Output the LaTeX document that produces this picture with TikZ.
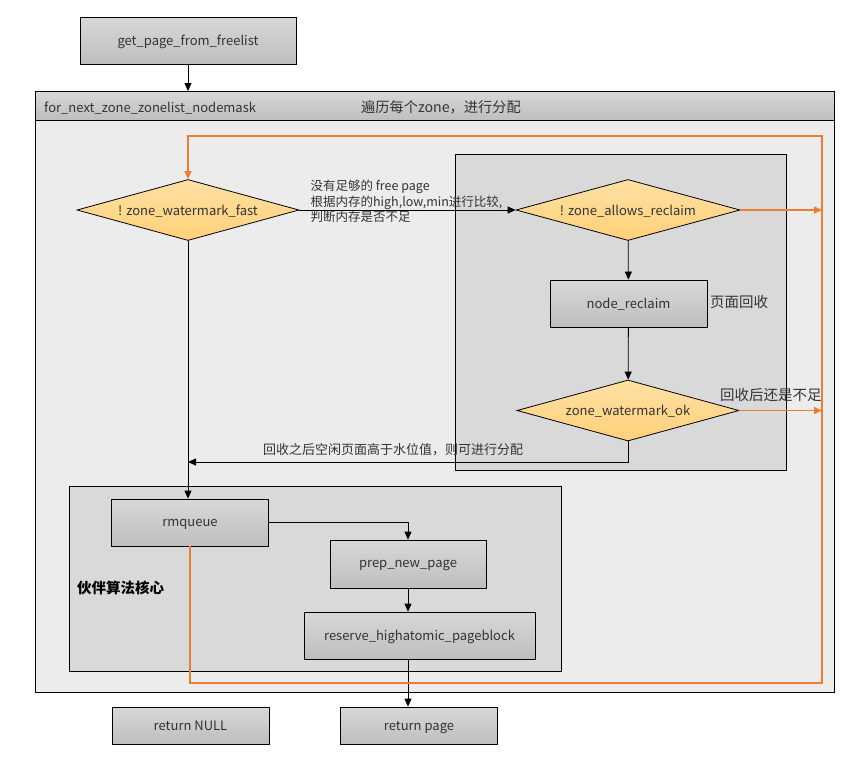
\documentclass[tikz,border=0pt]{standalone}
\usepackage{fontspec}
\setmainfont{Noto Sans CJK SC}
\usetikzlibrary{shapes.geometric, arrows.meta, positioning, calc}

\definecolor{boxtop}{HTML}{D8D8D8}
\definecolor{boxbot}{HTML}{BEBEBE}
\definecolor{dmdtop}{HTML}{FFE1A3}
\definecolor{dmdbot}{HTML}{FFD07A}
\definecolor{outerbg}{HTML}{ECECEC}
\definecolor{innerbg}{HTML}{D9D9D9}
\definecolor{loopline}{HTML}{ED7D31}
\definecolor{txtgray}{HTML}{333333}

\begin{document}
\begin{tikzpicture}[x=1pt, y=-1pt, >={Triangle[length=8pt, width=7pt]},
    func/.style={draw, line width=0.8pt, top color=boxtop, bottom color=boxbot, text=txtgray, minimum width=157pt, minimum height=47pt, inner sep=0pt, text depth=0pt, font=\fontsize{13}{15}\selectfont},
    decision/.style={diamond, draw, line width=0.8pt, top color=dmdtop, bottom color=dmdbot, aspect=3.6, inner sep=0pt, minimum width=222pt, minimum height=61pt, text=txtgray, text depth=0pt, font=\fontsize{13}{15}\selectfont},
    area/.style={draw, line width=0.8pt},
    note/.style={text=txtgray, font=\fontsize{12}{15}\selectfont, inner sep=0pt},
    flow/.style={->, line width=0.8pt},
    back/.style={line width=1.6pt, draw=loopline}]
    \useasboundingbox (0,0) rectangle (860,758);

    % containers
    \draw[area, fill=outerbg] (35,91) rectangle (834,692);
    \draw[area, top color=boxtop, bottom color=boxbot] (35,91) rectangle (834,120);
    \draw[area, fill=innerbg] (455,154) rectangle (786,470);
    \draw[area, fill=innerbg] (69,486) rectangle (561,671);
    \node[note, anchor=west, font=\fontsize{13}{15}\selectfont] (loophead) at (44,108) {for\_next\_zone\_zonelist\_nodemask};
    \node[note, anchor=west, font=\fontsize{14.2}{16}\selectfont] (loopnote) at (361,107) {遍历每个zone，进行分配};
    \node[note, anchor=west, font=\fontsize{14.5}{16}\selectfont\bfseries, text=black] (buddy) at (77,588) {伙伴算法核心};

    % steps
    \node[func, minimum width=216pt] (start) at (188,40.5) {get\_page\_from\_freelist};
    \node[decision] (fast) at (188,210) {! zone\_watermark\_fast};
    \node[decision, minimum width=224pt] (allow) at (628,210) {! zone\_allows\_reclaim};
    \node[func] (reclaim) at (628.5,303.5) {node\_reclaim};
    \node[note, anchor=west, font=\fontsize{14.5}{16}\selectfont] (reclaimnote) at (710,302) {页面回收};
    \node[decision] (wmok) at (628,410.5) {zone\_watermark\_ok};
    \node[note, anchor=west, font=\fontsize{14.5}{16}\selectfont] (lacknote) at (720,395) {回收后还是不足};
    \node[func] (rmq) at (190,522.5) {rmqueue};
    \node[func, minimum width=156pt, minimum height=48pt] (prep) at (408,564) {prep\_new\_page};
    \node[func, minimum width=231pt] (reserve) at (419.5,635.5) {reserve\_highatomic\_pageblock};
    \node[func, minimum height=37pt] (retnull) at (190.5,725.5) {return NULL};
    \node[func, minimum height=37pt] (retpage) at (419,725.5) {return page};

    \coordinate (rside) at (822,683);
    \coordinate (join) at (188,462);

    % connectors
    \draw[flow] (start) -- (start |- 0,91);
    \draw[flow] (fast) -- node[note, anchor=west, align=left, pos=0.05, yshift=8.5pt, font=\fontsize{12.5}{15.5}\selectfont] (lowtext) {没有足够的 free page\\根据内存的high,low,min进行比较,\\判断内存是否不足} (allow);
    \draw[flow] (allow) -- (reclaim);
    \draw[flow] (reclaim) -- (wmok);
    \draw[flow] (wmok.south) |- node[note, pos=0.767, above=6pt, font=\fontsize{13}{15}\selectfont] (oktext) {回收之后空闲页面高于水位值，则可进行分配} (join);
    \draw[flow] (fast.south) -- (fast.south |- rmq.north);
    \draw[flow] (rmq.east) -| (prep.north);
    \draw[flow] (prep) -- (prep |- reserve.north);
    \draw[flow] (prep |- reserve.south) -- (prep |- retpage.north);

    % back to next zone
    \draw[back, ->] (allow.east) -- (allow.east -| rside);
    \draw[back, ->] (wmok.east) -- (wmok.east -| rside);
    \draw[back, ->] (rmq.south) |- (rside) -- (rside |- 0,136) -| (fast.north);
\end{tikzpicture}
\end{document}
